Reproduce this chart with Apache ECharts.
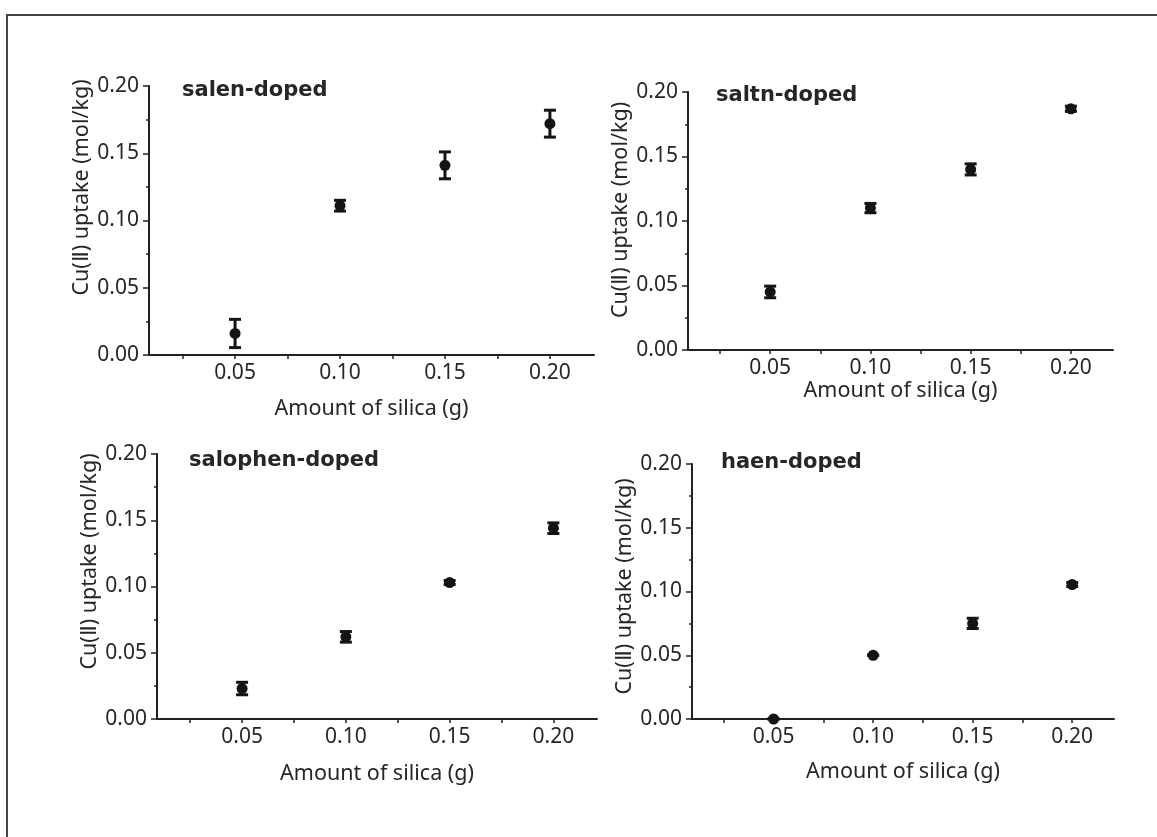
<!DOCTYPE html>
<html>
<head>
<meta charset="utf-8">
<script src="https://cdn.jsdelivr.net/npm/echarts@6/dist/echarts.min.js"></script>
<style>
html,body{margin:0;padding:0;background:#fff;}
#c{width:1157px;height:837px;}
</style>
</head>
<body>
<div id="c"></div>
<script>
// ---- data ----
const silica = [0.05, 0.10, 0.15, 0.20];
const xTickLabels = [0.05, 0.10, 0.15, 0.20];
const xTickMarks = [0.025, 0.05, 0.075, 0.10, 0.125, 0.15, 0.175, 0.20];
const yTickLabels = [0.00, 0.05, 0.10, 0.15, 0.20];

const panelTitles = ['salen-doped', 'saltn-doped', 'salophen-doped', 'haen-doped'];

const salen = [0.016, 0.111, 0.141, 0.172];
const salenErr = [0.0105, 0.004, 0.010, 0.010];
const saltn = [0.045, 0.110, 0.140, 0.187];
const saltnErr = [0.0045, 0.0036, 0.0043, 0.002];
const salophen = [0.023, 0.062, 0.103, 0.144];
const salophenErr = [0.0047, 0.004, 0.0015, 0.004];
const haen = [0.000, 0.050, 0.075, 0.1055];
const haenErr = [0, 0, 0.004, 0.0015];

const yTitle = 'Cu(\u2161) uptake (mol/kg)';
const xTitle = 'Amount of silica (g)';

// ---- layout ----
const grids = [
  {left: 149, top: 86, width: 445, height: 269},
  {left: 688, top: 92, width: 425, height: 258},
  {left: 157, top: 454, width: 440, height: 265},
  {left: 692, top: 464, width: 422, height: 255}
];
const xNameGaps = [43, 21, 44, 42];
const yNamePad = [66, 22, 50, 10];
const titlePos = [
  {left: 182, top: 80},
  {left: 716, top: 85},
  {left: 189, top: 450},
  {left: 721, top: 452}
];

const ink = '#141414';
const axisColor = '#222';
const txt = '#262626';
const font = 'Noto Sans';
const boldFont = 'DejaVu Sans';

const values = [salen, saltn, salophen, haen];
const errs = [salenErr, saltnErr, salophenErr, haenErr];

const xAxes = [], yAxes = [], series = [], titles = [];
for (let i = 0; i < 4; i++) {
  xAxes.push({
    gridIndex: i, type: 'value', min: 0.009, max: 0.221,
    name: xTitle, nameLocation: 'middle', nameGap: xNameGaps[i],
    nameTextStyle: {fontFamily: font, fontSize: 21.5, color: txt},
    axisLine: {show: true, onZero: false, lineStyle: {color: axisColor, width: 2}},
    axisTick: {show: true, inside: false, length: 4, customValues: xTickMarks, lineStyle: {color: axisColor, width: 1.5}},
    axisLabel: {customValues: xTickLabels, margin: 8, fontFamily: font, fontSize: 21, color: txt,
      formatter: v => v.toFixed(2)},
    splitLine: {show: false}
  });
  yAxes.push({
    gridIndex: i, type: 'value', min: 0, max: 0.2, interval: 0.05,
    name: yTitle, nameLocation: 'middle', nameGap: 56,
    nameTextStyle: {fontFamily: font, fontSize: 21.5, color: txt, padding: [0, 0, 0, yNamePad[i]]},
    axisLine: {show: true, onZero: false, lineStyle: {color: axisColor, width: 2}},
    axisTick: {show: true, inside: false, length: 6, lineStyle: {color: axisColor, width: 1.5}},
    minorTick: {show: true, splitNumber: 2, length: 3, lineStyle: {color: axisColor, width: 1.5}},
    axisLabel: {margin: 10, fontFamily: font, fontSize: 21, color: txt,
      formatter: v => v.toFixed(2)},
    splitLine: {show: false}, minorSplitLine: {show: false}
  });
  titles.push({
    text: panelTitles[i], left: titlePos[i].left, top: titlePos[i].top, padding: 0,
    textStyle: {fontFamily: boldFont, fontWeight: 'bold', fontSize: 21, color: txt}
  });
  const pts = silica.map((x, j) => [x, values[i][j]]);
  const bars = silica.map((x, j) => [x, values[i][j] - errs[i][j], values[i][j] + errs[i][j]]);
  series.push({
    type: 'custom', xAxisIndex: i, yAxisIndex: i, data: bars, z: 3,
    renderItem: function (params, api) {
      const x = api.value(0);
      const lo = api.coord([x, api.value(1)]);
      const hi = api.coord([x, api.value(2)]);
      const hw = 6;
      const st = {stroke: ink, lineWidth: 3};
      return {type: 'group', children: [
        {type: 'line', shape: {x1: lo[0], y1: lo[1], x2: hi[0], y2: hi[1]}, style: st},
        {type: 'line', shape: {x1: lo[0] - hw, y1: lo[1], x2: lo[0] + hw, y2: lo[1]}, style: st},
        {type: 'line', shape: {x1: hi[0] - hw, y1: hi[1], x2: hi[0] + hw, y2: hi[1]}, style: st}
      ]};
    }
  });
  series.push({
    type: 'scatter', xAxisIndex: i, yAxisIndex: i, data: pts, z: 4,
    symbol: 'circle', symbolSize: 11, itemStyle: {color: ink, opacity: 1}
  });
}

const chart = echarts.init(document.getElementById('c'), null, {renderer: 'canvas'});
chart.setOption({
  backgroundColor: '#fff',
  animation: false,
  title: titles,
  grid: grids,
  xAxis: xAxes,
  yAxis: yAxes,
  series: series,
  graphic: [{
    type: 'polyline', silent: true,
    shape: {points: [[7, 837], [7, 15], [1157, 15]]},
    style: {stroke: '#444', lineWidth: 2, fill: null}
  }]
});
</script>
</body>
</html>
